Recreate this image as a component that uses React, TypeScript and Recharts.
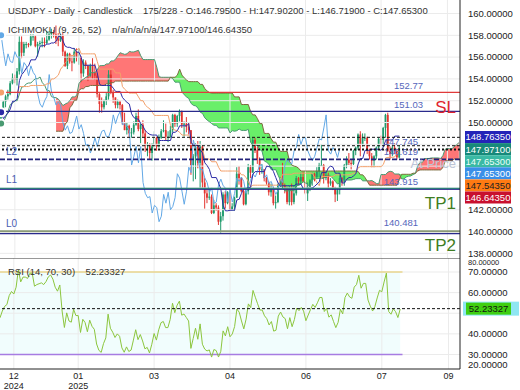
import React from 'react';
import {
  ComposedChart,
  Bar,
  Line,
  Area,
  XAxis,
  YAxis,
  ReferenceLine,
  ReferenceArea,
} from 'recharts';

// hidden history 25 Sep - 6 Dec 2024, only feeds the indicators
const preHighs = [
  144.9, 145.0, 146.5, 144.0,
  144.5, 146.9, 147.2, 149.0, 149.0, 148.3, 149.4, 149.6, 149.3, 149.9, 149.9, 149.8, 150.3, 150.3, 150.9, 151.1, 153.2, 152.8, 152.8, 153.9, 153.9, 153.8, 153.9,
  153.1, 153.0, 152.6, 154.7, 154.7, 153.0, 153.8, 154.7, 155.6, 156.7, 156.8, 155.0, 155.0, 155.9, 155.3, 155.0, 154.9, 154.4, 153.2, 151.9, 151.5,
  150.8, 150.0, 150.8, 151.0, 150.6,
];
const preLows = [
  143.1, 144.0, 141.7, 141.6,
  142.9, 143.4, 145.9, 146.4, 147.4, 147.3, 148.0, 148.3, 148.3, 148.9, 148.9, 148.9, 149.2, 149.3, 149.2, 150.2, 150.8, 151.4, 151.8, 152.2, 152.8, 152.7, 151.8,
  151.8, 151.8, 151.3, 151.7, 152.4, 152.0, 152.6, 153.6, 154.4, 155.2, 153.9, 153.3, 153.3, 154.6, 153.9, 154.0, 153.6, 152.9, 150.5, 151.0, 149.5,
  149.5, 148.7, 149.5, 149.8, 149.4,
];
const preCloses = [
  144.8, 144.8, 142.2, 143.6,
  143.6, 146.5, 147.0, 148.7, 148.2, 148.2, 149.3, 148.6, 149.1, 149.8, 149.2, 149.6, 150.1, 149.5, 150.8, 151.0, 152.7, 151.8, 152.3, 153.3, 153.4, 153.4, 152.0,
  153.0, 152.2, 151.6, 154.6, 152.9, 152.6, 153.7, 154.6, 155.5, 156.3, 154.3, 154.6, 154.7, 155.4, 154.5, 154.7, 154.2, 153.1, 151.1, 151.6, 149.8,
  149.6, 149.6, 150.6, 150.1, 150.0,
];

// visible daily bars, 9 Dec 2024 - 8 Aug 2025
const opens = [
  150.0, 151.2, 151.9, 152.4, 152.6, 153.6, 154.1, 153.9, 154.7, 157.4, 156.4, 157.2, 157.2, 157.1, 157.9, 157.9, 157.0,
  157.2, 157.3, 157.4, 157.3, 157.6, 158.1, 158.3, 158.1, 157.7, 157.5, 158.0, 156.5, 155.2, 156.3, 155.6, 155.5, 156.5, 156.0, 156.0, 154.5, 155.5, 155.2, 154.3,
  155.2, 154.6, 154.3, 152.6, 151.7, 151.4, 152.0, 152.4, 154.4, 152.8, 152.3, 151.6, 151.9, 151.6, 150.0, 149.3, 149.7, 149.0, 149.1, 149.8,
  150.6, 149.4, 149.8, 149.0, 147.9, 148.0, 147.2, 147.8, 148.6, 147.8, 148.6, 149.2, 149.3, 148.7, 148.7, 149.3, 150.7, 149.9, 150.6, 151.0, 149.8,
  149.9, 149.6, 149.3, 146.1, 146.9, 147.8, 146.3, 147.8, 144.5, 143.5, 143.1, 143.2, 141.7, 142.4, 142.2, 140.9, 141.4, 143.4, 142.6, 143.6, 142.0, 142.3,
  143.1, 145.3, 144.9, 143.7, 142.5, 143.7, 145.9, 145.4, 148.4, 147.5, 146.6, 145.7, 145.7, 144.9, 144.5, 143.6, 144.0, 142.6, 142.7, 144.3, 144.8, 144.2,
  144.0, 142.7, 143.9, 142.7, 143.5, 144.9, 144.6, 145.0, 144.6, 143.5, 144.1, 144.7, 145.3, 145.0, 145.5, 146.1, 146.1, 144.9, 145.2, 144.4, 144.6,
  144.0, 143.4, 143.8, 144.9, 144.5, 146.1, 146.6, 146.3, 146.2, 147.4, 147.7, 148.9, 148.0, 148.6, 148.6, 147.4, 146.9, 146.5, 146.9, 147.7, 148.5, 148.4, 149.5,
  150.7, 147.4, 147.1, 147.7, 147.4, 146.795,
];
const highs = [
  151.3, 152.0, 152.6, 153.0, 153.8, 154.5, 154.4, 155.0, 157.9, 157.9, 157.4, 157.4, 157.3, 158.1, 158.1, 158.0, 157.4,
  157.5, 157.8, 157.8, 158.4, 158.4, 158.6, 158.5, 158.9, 158.2, 158.1, 158.2, 156.6, 156.4, 156.4, 156.2, 156.8, 156.8, 156.8, 156.1, 155.8, 155.7, 155.3, 155.4,
  155.9, 155.4, 154.5, 152.7, 152.3, 152.1, 152.7, 154.8, 154.8, 153.0, 152.3, 152.1, 152.0, 151.7, 150.9, 150.0, 149.8, 149.5, 150.1, 150.9,
  151.2, 149.9, 150.2, 149.3, 148.2, 148.1, 148.1, 149.2, 148.7, 148.9, 149.4, 150.2, 149.9, 149.2, 149.7, 150.8, 150.8, 150.7, 151.2, 151.1, 150.1,
  150.5, 150.0, 149.3, 147.1, 148.1, 148.3, 148.3, 147.9, 144.9, 143.9, 143.9, 143.4, 142.9, 142.6, 142.4, 141.8, 143.6, 143.7, 143.7, 144.0, 142.6, 143.2,
  145.9, 146.0, 145.0, 144.0, 144.0, 146.2, 146.1, 148.6, 148.6, 147.8, 146.8, 146.2, 145.7, 145.0, 144.6, 144.4, 144.1, 143.3, 144.4, 145.0, 146.3, 144.4,
  144.1, 144.2, 144.4, 144.2, 145.1, 145.0, 145.4, 145.5, 144.7, 144.5, 144.8, 145.4, 145.4, 145.9, 146.3, 148.0, 146.2, 145.5, 145.4, 144.9, 144.7,
  144.1, 144.0, 145.2, 145.0, 146.2, 146.9, 147.2, 146.6, 147.5, 147.8, 149.0, 149.2, 149.0, 149.0, 148.7, 147.6, 147.2, 147.0, 147.8, 148.6, 148.8, 149.6, 150.8,
  150.9, 147.8, 147.9, 148.1, 147.6, 147.902,
];
const lows = [
  149.8, 150.9, 151.4, 152.1, 152.5, 153.5, 153.6, 153.4, 154.4, 155.9, 156.1, 156.8, 156.9, 157.0, 157.5, 156.9, 156.0,
  157.0, 156.9, 156.9, 157.2, 157.5, 157.7, 157.8, 157.2, 157.0, 157.4, 156.1, 155.1, 154.9, 155.4, 154.7, 155.4, 155.6, 155.3, 153.7, 154.2, 154.9, 153.8, 154.2,
  154.0, 153.9, 152.3, 150.9, 150.9, 151.2, 151.6, 152.1, 152.6, 151.8, 151.3, 151.3, 151.2, 149.8, 149.3, 148.9, 148.6, 148.6, 148.9, 149.7,
  149.2, 148.1, 148.6, 147.3, 146.9, 146.6, 146.5, 147.5, 147.4, 147.7, 148.5, 149.1, 148.3, 148.2, 148.6, 149.1, 149.6, 149.6, 150.1, 149.5, 148.7,
  149.1, 148.9, 145.2, 144.6, 144.8, 145.8, 143.9, 144.0, 142.1, 142.6, 142.9, 141.6, 141.6, 141.9, 140.6, 139.9, 141.0, 142.1, 142.5, 141.9, 141.9, 141.9,
  143.1, 144.3, 143.6, 142.4, 142.4, 143.4, 144.9, 145.4, 147.2, 146.2, 145.2, 145.3, 144.6, 144.3, 143.3, 143.2, 142.4, 142.1, 142.6, 144.1, 144.0, 143.5,
  142.5, 142.4, 142.4, 142.5, 143.3, 144.3, 144.3, 144.5, 143.4, 142.8, 143.7, 144.2, 144.6, 144.8, 145.0, 146.0, 144.4, 144.7, 144.0, 144.2, 143.8,
  142.7, 142.8, 143.4, 144.2, 144.2, 145.8, 146.1, 145.7, 146.1, 147.0, 147.5, 146.9, 147.8, 148.3, 147.1, 146.6, 145.9, 145.9, 146.6, 147.6, 147.9, 147.8, 148.6,
  147.3, 146.6, 146.9, 147.1, 146.6, 146.719,
];
const closes = [
  151.2, 151.9, 152.4, 152.6, 153.6, 154.1, 153.9, 154.7, 157.4, 156.4, 157.2, 157.2, 157.1, 157.9, 157.9, 157.0, 157.2,
  157.3, 157.4, 157.3, 157.6, 158.1, 158.3, 158.1, 157.7, 157.5, 158.0, 156.5, 155.2, 156.3, 155.6, 155.5, 156.5, 156.0, 156.0, 154.5, 155.5, 155.2, 154.3, 155.2,
  154.6, 154.3, 152.6, 151.7, 151.4, 152.0, 152.4, 154.4, 152.8, 152.3, 151.6, 151.9, 151.6, 150.0, 149.3, 149.7, 149.0, 149.1, 149.8, 150.6,
  149.4, 149.8, 149.0, 147.9, 148.0, 147.2, 147.8, 148.6, 147.8, 148.6, 149.2, 149.3, 148.7, 148.7, 149.3, 150.7, 149.9, 150.6, 151.0, 149.8, 149.9,
  149.6, 149.3, 146.1, 146.9, 147.8, 146.3, 147.8, 144.5, 143.5, 143.1, 143.2, 141.7, 142.4, 142.2, 140.9, 141.4, 143.4, 142.6, 143.6, 142.0, 142.3, 143.1,
  145.3, 144.9, 143.7, 142.5, 143.7, 145.9, 145.4, 148.4, 147.5, 146.6, 145.7, 145.7, 144.9, 144.5, 143.6, 144.0, 142.6, 142.7, 144.3, 144.8, 144.2, 144.0,
  142.7, 143.9, 142.7, 143.5, 144.9, 144.6, 145.0, 144.6, 143.5, 144.1, 144.7, 145.3, 145.0, 145.5, 146.1, 146.1, 144.9, 145.2, 144.4, 144.6, 144.0,
  143.4, 143.8, 144.9, 144.5, 146.1, 146.6, 146.3, 146.2, 147.4, 147.7, 148.9, 148.0, 148.6, 148.6, 147.4, 146.9, 146.5, 146.9, 147.7, 148.5, 148.4, 149.5, 150.7,
  147.4, 147.1, 147.7, 147.4, 146.8, 147.653,
];

const futureBars = 26;
const tickBars = [6, 34, 67, 100, 133, 166, 195];
const tickMonths = ['12', '01', '03', '04', '06', '07', '09'];
const tickYears = ['2024', '2025', '', '', '', '', ''];
// labelled price ticks (144-148 sit under the price boxes)
const priceTicks = [138, 140, 142, 150, 152, 154, 156, 158, 160];
const priceGrid = [138, 140, 142, 144, 146, 148, 150, 152, 154, 156, 158, 160];
const rsiTicks = [30, 40, 60, 70];
const rsiGrid = [30, 40, 50, 60, 70];

// right-hand price boxes: tenkan, span A, close, chikou, kijun, span B
const sideValues = [148.7635, 147.971, 147.653, 147.653, 147.5435, 146.6435];
const sideFills = ['#2424b8', '#17897a', '#3ab9a4', '#3a8fe8', '#ff7a12', '#c8102e'];
const sideInk = ['#fff', '#fff', '#eafff8', '#fff', '#222', '#fff'];

const slLevel = 152.77;
const entryLevel = 151.03;
const l2Level = 146.619;
const tp1Level = 143.915;
const tp2Level = 139.981;
const rsiLast = 52.23327;

const PRICE_MIN = 137.57;
const PRICE_MAX = 161.24;
const RSI_MIN = 22.96;
const RSI_MAX = 76.8;

const UP = '#1f9a6c';
const DOWN = '#e2342f';
const FONT = '"Liberation Sans", Arial, sans-serif';
const FS = 9.5;

const H = [...preHighs, ...highs];
const L = [...preLows, ...lows];
const C = [...preCloses, ...closes];
const off = preHighs.length;

const midpoint = (end: number, len: number) => {
  if (end - len + 1 < 0 || end >= H.length) return null;
  let hi = -Infinity;
  let lo = Infinity;
  for (let k = end - len + 1; k <= end; k++) {
    hi = Math.max(hi, H[k]);
    lo = Math.min(lo, L[k]);
  }
  return (hi + lo) / 2;
};

// wilder rsi(14)
const rsiAll: (number | null)[] = C.map(() => null);
let avgUp = 0;
let avgDn = 0;
for (let k = 1; k < C.length; k++) {
  const ch = C[k] - C[k - 1];
  const up = Math.max(ch, 0);
  const dn = Math.max(-ch, 0);
  if (k <= 14) {
    avgUp += up / 14;
    avgDn += dn / 14;
  } else {
    avgUp = (avgUp * 13 + up) / 14;
    avgDn = (avgDn * 13 + dn) / 14;
  }
  if (k >= 14) rsiAll[k] = avgDn === 0 ? 100 : 100 - 100 / (1 + avgUp / avgDn);
}

const rows = Array.from({ length: closes.length + futureBars }, (_, i) => {
  const a = i + off;
  const live = i < closes.length;
  const t26 = midpoint(a - 26, 9);
  const k26 = midpoint(a - 26, 26);
  const spanA = t26 != null && k26 != null ? (t26 + k26) / 2 : null;
  const spanB = midpoint(a - 26, 52);
  const both = spanA != null && spanB != null;
  return {
    i,
    o: live ? opens[i] : null,
    h: live ? highs[i] : null,
    l: live ? lows[i] : null,
    c: live ? closes[i] : null,
    range: live ? [lows[i], highs[i]] : null,
    tenkan: live ? midpoint(a, 9) : null,
    kijun: live ? midpoint(a, 26) : null,
    chikou: live && a + 26 < C.length ? C[a + 26] : null,
    spanA,
    spanB,
    red: both ? [Math.min(spanA!, spanB!), spanA] : null,
    green: both ? [spanA, Math.max(spanA!, spanB!)] : null,
    rsi: live ? rsiAll[a] : null,
  };
});

const Candle = (props: any) => {
  const { x, y, width, height, payload } = props;
  if (!payload || payload.o == null) return null;
  const top = Math.min(y, y + height);
  const hgt = Math.abs(height);
  const span = payload.h - payload.l || 1;
  const py = (v: number) => top + ((payload.h - v) / span) * hgt;
  const col = payload.c >= payload.o ? UP : DOWN;
  const cx = x + width / 2;
  const bTop = py(Math.max(payload.o, payload.c));
  const bBot = py(Math.min(payload.o, payload.c));
  return (
    <g>
      <line x1={cx} x2={cx} y1={top} y2={top + hgt} stroke={col} strokeWidth={1} />
      <rect x={cx - 0.9} y={bTop} width={1.8} height={Math.max(1, bBot - bTop)} fill={col} />
    </g>
  );
};

const levelText =
  (text: string, color: string, size: number, fromRight: number, dy: number) =>
  (props: any) => {
    const vb = props.viewBox;
    return (
      <text x={vb.x + vb.width - fromRight} y={vb.y + dy} fill={color} fontSize={size} textAnchor="end" fontFamily={FONT}>
        {text}
      </text>
    );
  };

const leftText = (text: string, dy: number) => (props: any) => {
  const vb = props.viewBox;
  return (
    <text x={vb.x + 6} y={vb.y + dy} fill="#4a5cb2" fontSize={10} fontFamily={FONT}>
      {text}
    </text>
  );
};

const sideBoxes = (props: any) => {
  const vb = props.viewBox;
  const x0 = vb.x + vb.width + 5;
  return (
    <g>
      {sideValues.map((v, k) => {
        const cy = vb.y + 1 + k * 12.1;
        return (
          <g key={k}>
            <rect x={x0} y={cy - 6} width={46} height={12} fill={sideFills[k]} />
            <text x={x0 + 23} y={cy + 3.5} fill={sideInk[k]} fontSize={FS} textAnchor="middle" fontFamily={FONT}>
              {v.toFixed(5)}
            </text>
          </g>
        );
      })}
    </g>
  );
};

const rsiBox = (props: any) => {
  const vb = props.viewBox;
  const x0 = vb.x + vb.width + 3;
  return (
    <g>
      <rect x={x0} y={vb.y - 7} width={56} height={14} fill="#8fe6f2" />
      <rect x={x0 + 3} y={vb.y - 6} width={45} height={12} fill="#3fcf12" />
      <text x={x0 + 25.5} y={vb.y + 3.5} fill="#111" fontSize={FS} textAnchor="middle" fontFamily={FONT}>
        {rsiLast.toFixed(5)}
      </text>
    </g>
  );
};

const edgeTick = (text: string, dy: number, size: number) => (props: any) => {
  const vb = props.viewBox;
  return (
    <text x={vb.x + vb.width + 8} y={vb.y + dy} fill="#222" fontSize={size} fontFamily={FONT}>
      {text}
    </text>
  );
};

const XTick = (props: any) => {
  const { x, y, payload } = props;
  const k = tickBars.indexOf(payload.value);
  if (k < 0) return null;
  return (
    <g>
      <text x={x} y={y + 6} fill="#222" fontSize={9} textAnchor="middle" fontFamily={FONT}>
        {tickMonths[k]}
      </text>
      {tickYears[k] ? (
        <text x={x} y={y + 16} fill="#222" fontSize={9} textAnchor="middle" fontFamily={FONT}>
          {tickYears[k]}
        </text>
      ) : null}
    </g>
  );
};

const App: React.FC = () => {
  return (
    <div style={{ position: 'absolute', left: 0, top: 0, width: 520, height: 390, background: '#fff', fontFamily: FONT }}>
      <ComposedChart width={520} height={258} data={rows} margin={{ top: 0, right: 0, bottom: 0, left: 0 }} barCategoryGap={0} barGap={0}>
        {priceGrid.map((v) => (
          <ReferenceLine key={'h' + v} y={v} stroke="#ebebeb" />
        ))}
        {tickBars.map((t) => (
          <ReferenceLine key={t} x={t} stroke="#ebebeb" />
        ))}
        <XAxis dataKey="i" hide />
        <YAxis
          orientation="right"
          width={60}
          domain={[PRICE_MIN, PRICE_MAX]}
          allowDataOverflow
          ticks={priceTicks}
          interval={0}
          tickFormatter={(v: number) => v.toFixed(5)}
          tick={{ fontSize: FS, fill: '#222', fontFamily: FONT }}
          tickLine={false}
          axisLine={{ stroke: '#222' }}
        />
        <Area dataKey="red" stroke="none" fill="#ff5e5e" fillOpacity={0.85} isAnimationActive={false} />
        <Area dataKey="green" stroke="none" fill="#4fec4f" fillOpacity={0.85} isAnimationActive={false} />
        <Line dataKey="spanA" stroke="#4a9a72" strokeWidth={1} dot={false} isAnimationActive={false} />
        <Line dataKey="spanB" stroke="#7c6a3e" strokeWidth={1} dot={false} isAnimationActive={false} />
        <Line dataKey="chikou" stroke="#62a8e6" strokeWidth={1} dot={false} isAnimationActive={false} />
        <Line dataKey="kijun" stroke="#f3a16c" strokeWidth={1} dot={false} isAnimationActive={false} />
        <Line dataKey="tenkan" stroke="#2b2ba6" strokeWidth={1} dot={false} isAnimationActive={false} />
        <Bar dataKey="range" shape={Candle} isAnimationActive={false} />

        <ReferenceLine y={slLevel} stroke="#e03a3a" strokeWidth={1.2} label={levelText('152.77', '#5566bb', FS, 37, -3)} />
        <ReferenceLine y={entryLevel} stroke="#2a2a8c" strokeWidth={1.2} label={levelText('151.03', '#5566bb', FS, 37, -3)} />
        <ReferenceLine y={entryLevel} stroke="none" label={levelText('SL', '#e0242c', 17, 4, 2)} />
        <ReferenceLine y={148.64} stroke="#111" strokeDasharray="3 2" />
        <ReferenceLine y={147.87} stroke="#111" strokeDasharray="3 2" label={levelText('147.745', '#5566bb', FS, 42, -1)} />
        <ReferenceLine y={147.53} stroke="#111" strokeWidth={2} strokeDasharray="2 2" />
        <ReferenceLine y={l2Level} stroke="#22227a" strokeWidth={1.6} strokeDasharray="5 2" label={levelText('146.619', '#5566bb', FS, 42, -4)} />
        <ReferenceLine y={l2Level} stroke="none" label={levelText('At Price', '#bcc4d6', 13, 4, 9)} />
        <ReferenceLine y={l2Level} stroke="none" label={leftText('L2', -4)} />
        <ReferenceLine y={tp1Level + 0.05} stroke="#2f8a78" strokeWidth={1.2} label={leftText('L1', -5.5)} />
        <ReferenceLine y={tp1Level - 0.05} stroke="#2a2a8c" strokeWidth={1} label={levelText('143.915', '#5566bb', FS, 42, -4)} />
        <ReferenceLine y={tp1Level} stroke="none" label={levelText('TP1', '#3f7d22', 17, 4, 20)} />
        <ReferenceLine y={tp2Level + 0.05} stroke="#8a9a78" strokeWidth={2} label={levelText('140.481', '#5566bb', FS, 42, -5)} />
        <ReferenceLine y={tp2Level - 0.17} stroke="#2a2a8c" strokeWidth={1.2} label={leftText('L0', -7)} />
        <ReferenceLine y={tp2Level} stroke="none" label={levelText('TP2', '#3f7d22', 17, 4, 19)} />
        <ReferenceLine y={sideValues[0]} stroke="none" label={sideBoxes} />
      </ComposedChart>

      <div style={{ position: 'absolute', left: 0, top: 258 }}>
        <ComposedChart width={520} height={132} data={rows} margin={{ top: 0, right: 0, bottom: 0, left: 0 }}>
          {rsiGrid.map((v) => (
            <ReferenceLine key={'h' + v} y={v} stroke="#ebebeb" />
          ))}
          {tickBars.map((t) => (
            <ReferenceLine key={t} x={t} stroke="#ebebeb" />
          ))}
          <ReferenceArea x1={0} x2={closes.length - 1} y1={30} y2={70} fill="#eefcfc" fillOpacity={0.8} stroke="none" />
          <XAxis
            dataKey="i"
            height={21}
            ticks={tickBars}
            interval={0}
            tick={XTick}
            tickLine={false}
            tickSize={2}
            axisLine={{ stroke: '#222' }}
          />
          <YAxis
            orientation="right"
            width={60}
            domain={[RSI_MIN, RSI_MAX]}
            allowDataOverflow
            ticks={rsiTicks}
            interval={0}
            tickFormatter={(v: number) => v.toFixed(5)}
            tick={{ fontSize: FS, fill: '#222', fontFamily: FONT }}
            tickLine={false}
            axisLine={{ stroke: '#222' }}
          />
          <ReferenceLine segment={[{ x: 0, y: 70 }, { x: closes.length, y: 70 }]} stroke="#e9d68e" strokeWidth={1.5} />
          <ReferenceLine segment={[{ x: 0, y: 30 }, { x: closes.length, y: 30 }]} stroke="#a77ce2" strokeWidth={1.5} />
          <Line dataKey="rsi" stroke="#8cc63e" strokeWidth={1} dot={false} isAnimationActive={false} />
          <ReferenceLine y={rsiLast} stroke="#111" strokeDasharray="3 2" label={rsiBox} />
          <ReferenceLine y={RSI_MAX} stroke="#333" label={edgeTick('80.00000', 7.2, 7.5)} />
          <ReferenceLine y={RSI_MIN} stroke="none" label={edgeTick('20.00000', -1, FS)} />
        </ComposedChart>
      </div>

      <div style={{ position: 'absolute', left: 8, top: 5, fontSize: FS, color: '#333', whiteSpace: 'pre' }}>
        {'USDJPY - Daily - Candlestick    175/228 - O:146.79500 - H:147.90200 - L:146.71900 - C:147.65300'}
      </div>
      <div style={{ position: 'absolute', left: 8, top: 24, fontSize: FS, color: '#333', whiteSpace: 'pre' }}>
        {'ICHIMOKU (9, 26, 52)    n/a/n/a/n/a/147.97100/146.64350'}
      </div>
      <div style={{ position: 'absolute', left: 8, top: 266, fontSize: FS, color: '#333', whiteSpace: 'pre' }}>
        {'RSI (14, 70, 30)    52.23327'}
      </div>
    </div>
  );
};

export default App;
